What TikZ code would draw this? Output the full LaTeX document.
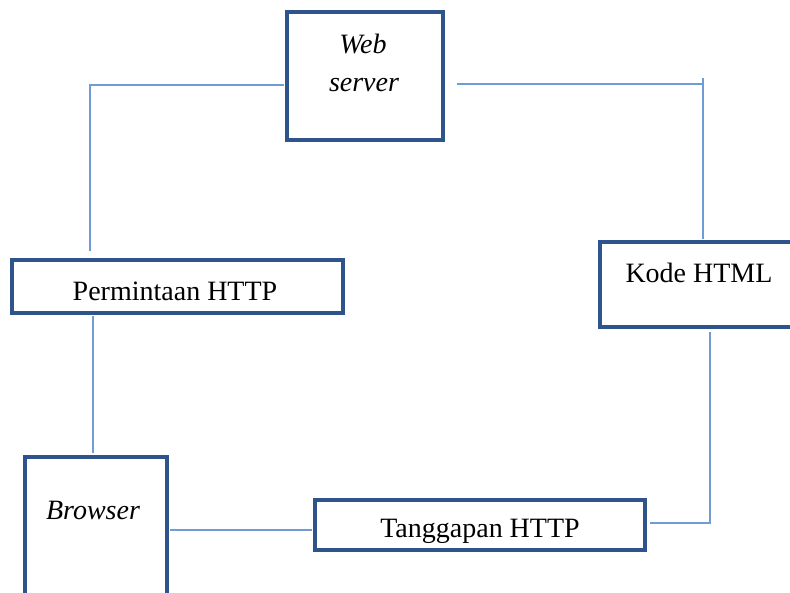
\documentclass[tikz,border=0pt]{standalone}
\usepackage{fontspec}
\setmainfont{Liberation Serif}
\definecolor{boxc}{RGB}{47,84,140}
\definecolor{linec}{RGB}{112,155,212}
\begin{document}
\begin{tikzpicture}[x=1pt,y=-1pt,
  box/.style={draw=boxc,line width=3.2pt,fill=white,inner sep=0pt},
  conn/.style={draw=linec,line width=2pt},
  lbl/.style={font=\fontsize{28}{34}\selectfont,inner sep=0pt,anchor=base},
  ilbl/.style={lbl,font=\fontsize{28}{34}\selectfont\itshape}]
\useasboundingbox (0,0) rectangle (790,592);
\clip (0,0) rectangle (790,592);
% boxes
\node[box,minimum width=156pt,minimum height=128pt] (ws) at (365,76) {};
\node[box,minimum width=331pt,minimum height=53pt] (pm) at (177.5,286.5) {};
\node[box,minimum width=142pt,minimum height=160pt] (br) at (96,537) {};
\node[box,minimum width=330pt,minimum height=50pt] (tg) at (480,525) {};
\node[box,minimum width=220pt,minimum height=85pt] (kd) at (710,284.5) {};
% texts
\node[ilbl] (wst1) at (363,53) {Web};
\node[ilbl] (wst2) at (364,91) {server};
\node[lbl] (pmt) at (175,300) {Permintaan HTTP};
\node[ilbl] (brt) at (93,519) {Browser};
\node[lbl] (tgt) at (480,537) {Tanggapan HTTP};
\node[lbl] (kdt) at (699,282) {Kode HTML};
% corners
\coordinate (c1) at (90,85);
\coordinate (c2) at (710,523);
\coordinate (c3) at (703,84);
\coordinate (c3t) at (703,78);
% connectors
\draw[conn] ([xshift=-1.6pt,yshift=-9pt]ws.west) -- (c1) -- ([xshift=-87.5pt,yshift=7pt]pm.north);
\draw[conn] ([xshift=-84.5pt,yshift=-1.6pt]pm.south) -- ([xshift=-3pt,yshift=2pt]br.north);
\draw[conn] ([xshift=1.6pt,yshift=7pt]br.east) -- ([xshift=-1.6pt,yshift=-5pt]tg.west);
\draw[conn] ([xshift=3pt,yshift=2pt]tg.east) -- (c2) -- ([xshift=0pt,yshift=-3pt]kd.south);
\draw[conn] ([xshift=-7pt,yshift=1.6pt]kd.north) -- (c3t);
\draw[conn] ([xshift=12pt,yshift=-8pt]ws.east) -- (c3);
\end{tikzpicture}
\end{document}
